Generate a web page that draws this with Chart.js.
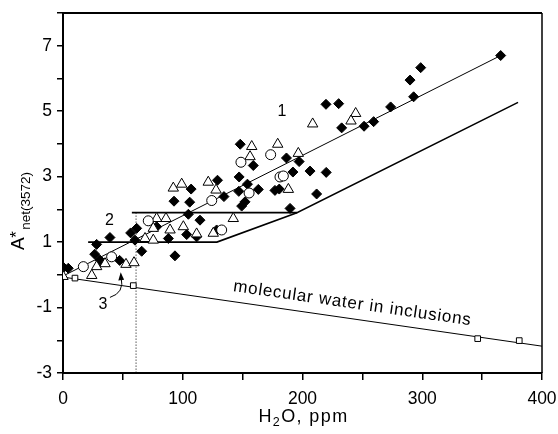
<!DOCTYPE html>
<html>
<head>
<meta charset="utf-8">
<script src="https://cdn.jsdelivr.net/npm/chart.js@4/dist/chart.umd.min.js"></script>
<style>
html,body{margin:0;padding:0;background:#fff;}
canvas{display:block;}
</style>
</head>
<body>
<canvas id="c" width="558" height="434"></canvas>
<script>
// ---- Data (x = H2O ppm, y = A*net(3572)) ----
const diamonds = [
  [365.5,6.70],[298.7,6.33],[289.8,5.95],[292.8,5.44],[273.6,5.13],[219.6,5.21],[230.2,5.23],[259.4,4.68],[251.4,4.54],[232.7,4.49],
  [148.0,3.99],[158.9,3.34],[186.6,3.57],[197.2,3.46],[192.0,3.14],[206.3,3.17],[219.8,3.13],[147.1,2.99],[154.0,2.77],[163.1,2.61],
  [177.0,2.58],[180.6,2.62],[211.8,2.47],[129.0,2.89],[134.4,2.39],[146.8,2.55],[149.2,2.10],[152.0,2.23],[189.6,2.03],[92.7,2.25],
  [105.8,2.22],[107.0,2.62],[104.7,1.85],[114.4,1.67],[78.2,1.47],[88.0,1.11],[103.3,1.23],[111.6,1.16],[128.3,1.37],[93.5,0.58],
  [56.5,1.28],[61.5,1.42],[60.1,1.06],[65.7,0.72],[39.2,1.14],[28.1,0.93],[26.5,0.63],[30.9,0.45],[47.3,0.44],[0.5,0.22],[4.4,0.20]
];
const triangles = [
  [208.5,4.61],[244.4,4.93],[240.5,4.70],[157.6,3.92],[179.3,3.99],[156.2,3.61],[196.5,3.71],[188.2,2.61],[142.2,1.72],[92.1,2.65],
  [99.1,2.77],[121.3,2.83],[127.8,2.59],[78.2,1.72],[86.0,1.72],[75.4,1.42],[89.4,1.37],[100.5,1.47],[111.6,1.25],[125.5,1.27],
  [68.5,1.11],[75.4,1.06],[52.6,0.32],[59.3,0.37],[35.1,0.34],[28.1,0.25],[24.0,-0.02],[0.0,-0.05]
];
const circles = [
  [148.6,3.44],[173.4,3.67],[181.2,2.99],[184.0,3.02],[155.4,2.50],[124.2,2.27],[71.2,1.65],[132.5,1.37],[17.0,0.25],[40.6,0.55]
];
const squares = [[10,-0.10],[58.7,-0.33],[346.3,-1.95],[381,-2.01]];

// fitted / boundary lines
const line1 = [[2,0.0],[365.5,6.70]];
const upper2 = [[57.5,1.9],[195.4,1.9],[380,5.27]];
const lower2 = [[21,1.0],[128.5,1.0],[195.4,1.9]];
const molecular = [[0,-0.07],[400,-2.18]];
const dotted = [[61,1.9],[61,-3]];

// axis ticks
const xTicks = [0,100,200,300,400];
const yTicks = [-3,-1,1,3,5,7];

const pts = a => a.map(([x,y]) => ({x,y}));
const FONT = "'Liberation Sans', Arial, sans-serif";

const lineDs = (arr, w, dash) => ({
  data: pts(arr), showLine: true, pointRadius: 0, borderColor: '#000',
  borderWidth: w, borderDash: dash || [], fill: false, tension: 0
});

const overlay = {
  id: 'overlay',
  afterDraw(chart) {
    const {ctx, chartArea: a, scales: {x, y}} = chart;
    const X = v => x.getPixelForValue(v), Y = v => y.getPixelForValue(v);
    ctx.save();
    ctx.strokeStyle = '#000'; ctx.fillStyle = '#000';
    // top and right frame
    ctx.lineWidth = 2;
    ctx.beginPath(); ctx.moveTo(a.left, a.top); ctx.lineTo(a.right, a.top); ctx.stroke();
    ctx.lineWidth = 1.5;
    ctx.beginPath(); ctx.moveTo(a.right, a.top); ctx.lineTo(a.right, a.bottom); ctx.stroke();

    // region labels
    ctx.font = `16px ${FONT}`; ctx.textAlign = 'center'; ctx.textBaseline = 'middle';
    ctx.fillText('1', X(182.9), Y(5.0));
    ctx.fillText('2', X(38.8), Y(1.67));
    ctx.fillText('3', X(33.4), Y(-0.92));

    // curved arrow from label 3
    ctx.lineWidth = 1;
    ctx.beginPath();
    ctx.moveTo(X(39.2), Y(-0.69));
    ctx.quadraticCurveTo(X(51.5), Y(-0.55), X(48.6), Y(-0.08));
    ctx.stroke();
    ctx.beginPath();
    ctx.moveTo(X(48.2), Y(0.08));
    ctx.lineTo(X(46.2), Y(-0.17));
    ctx.lineTo(X(51.0), Y(-0.15));
    ctx.closePath(); ctx.fill();

    // molecular water label, along the line
    const ang = Math.atan2(Y(molecular[1][1]) - Y(molecular[0][1]), X(molecular[1][0]) - X(molecular[0][0]));
    ctx.save();
    ctx.translate(X(241.1), Y(-1.02));
    ctx.rotate(ang);
    ctx.font = `17px ${FONT}`; ctx.textAlign = 'center'; ctx.textBaseline = 'alphabetic';
    try { ctx.letterSpacing = '0.8px'; } catch(e) {}
    ctx.fillText('molecular water in inclusions', 0, 0);
    ctx.restore();

    // x-axis title H2O, ppm
    ctx.save();
    ctx.textAlign = 'left'; ctx.textBaseline = 'alphabetic';
    try { ctx.letterSpacing = '1.4px'; } catch(e) {}
    const big = `18px ${FONT}`, sub = `12.5px ${FONT}`;
    ctx.font = big; const wH = ctx.measureText('H').width, wR = ctx.measureText('O, ppm').width;
    ctx.font = sub; const w2 = ctx.measureText('2').width;
    let sx = (a.left + a.right) / 2 - (wH + w2 + wR) / 2 + 1;
    const by = 422;
    ctx.font = big; ctx.fillText('H', sx, by); sx += wH;
    ctx.font = sub; ctx.fillText('2', sx, by + 4); sx += w2;
    ctx.font = big; ctx.fillText('O, ppm', sx, by);
    ctx.restore();

    // y-axis title A*net(3572)
    ctx.save();
    ctx.textAlign = 'left'; ctx.textBaseline = 'alphabetic';
    ctx.translate(24, (a.top + a.bottom) / 2 + 57);
    ctx.rotate(-Math.PI / 2);
    ctx.font = `19px ${FONT}`; ctx.fillText('A', 0, 0);
    let u = ctx.measureText('A').width;
    ctx.font = `17px ${FONT}`; ctx.fillText('*', u - 0.5, -2);
    u += ctx.measureText('*').width + 1;
    ctx.font = `13.5px ${FONT}`; ctx.fillText('net(3572)', u, 6);
    ctx.restore();

    ctx.restore();
  }
};

new Chart(document.getElementById('c'), {
  type: 'scatter',
  data: {
    datasets: [
      {data: pts(squares), pointStyle: 'rect', pointRadius: 4, borderColor: '#000', backgroundColor: '#fff', borderWidth: 1},
      {data: pts(circles), pointStyle: 'circle', pointRadius: 5, borderColor: '#000', backgroundColor: '#fff', borderWidth: 1},
      {data: pts(triangles), pointStyle: 'triangle', pointRadius: 6, borderColor: '#000', backgroundColor: '#fff', borderWidth: 1},
      {data: pts(diamonds), pointStyle: 'rectRot', pointRadius: 5, borderColor: '#000', backgroundColor: '#000', borderWidth: 1},
      lineDs(line1, 1),
      lineDs(upper2, 1.6),
      lineDs(lower2, 1.6),
      lineDs(molecular, 1),
      lineDs(dotted, 1, [1, 2])
    ]
  },
  options: {
    responsive: false,
    animation: false,
    events: [],
    layout: {padding: {top: 13, right: 16, left: 0, bottom: 0}},
    plugins: {legend: {display: false}, tooltip: {enabled: false}},
    scales: {
      x: {
        type: 'linear', min: 0, max: 400,
        afterFit: s => { s.height = 61; s.paddingLeft = 0; s.paddingRight = 0; },
        border: {display: true, color: '#000', width: 2},
        grid: {drawOnChartArea: false, drawTicks: true, tickLength: 7, color: '#000', lineWidth: 1.5},
        ticks: {
          stepSize: 50, color: '#000', padding: 8.5, maxRotation: 0,
          font: {family: FONT, size: 17.5},
          callback: v => xTicks.includes(v) ? String(v) : ''
        }
      },
      y: {
        type: 'linear', min: -3, max: 8,
        afterFit: s => { s.width = 63; s.paddingTop = 0; s.paddingBottom = 0; },
        border: {display: true, color: '#000', width: 2},
        grid: {drawOnChartArea: false, drawTicks: true, tickLength: 6, color: '#000', lineWidth: 1.5},
        ticks: {
          stepSize: 1, color: '#000', padding: 5,
          font: {family: FONT, size: 17.5},
          callback: v => yTicks.includes(v) ? String(v) : ''
        }
      }
    }
  },
  plugins: [overlay]
});
</script>
</body>
</html>
